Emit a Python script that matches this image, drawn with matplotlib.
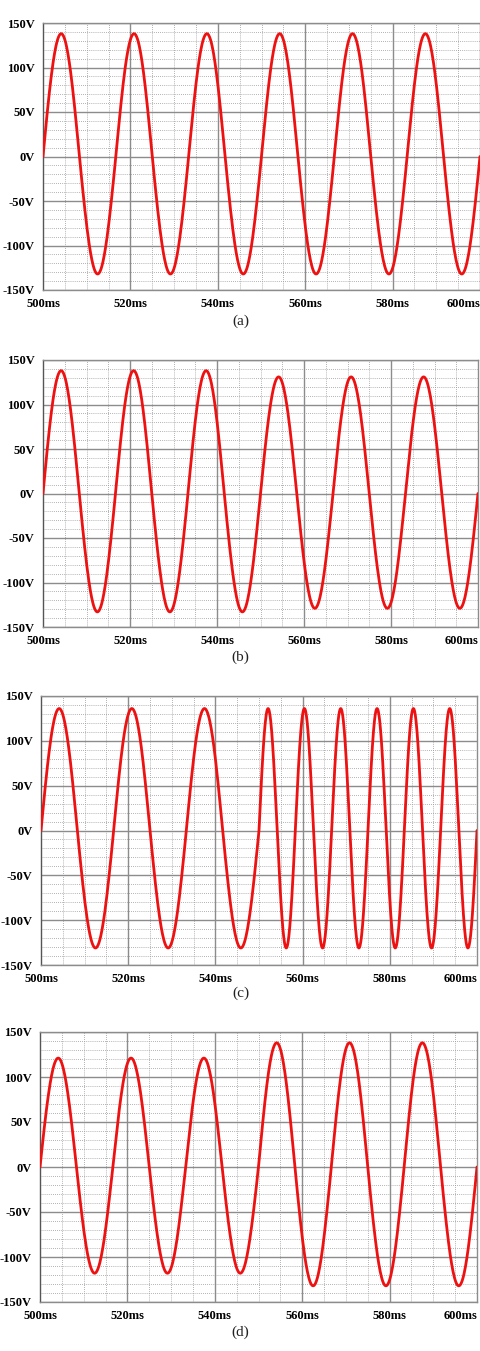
import matplotlib
matplotlib.use('Agg')
import matplotlib.pyplot as plt
import numpy as np

# half-cycle durations (ms) and peak values (V)
halfcyc_ms_a = [8.333] * 12
peaks_a = [138, -132] * 6

halfcyc_ms_b = [8.333] * 12
peaks_b = [138, -133] * 3 + [131, -129] * 3

halfcyc_ms_c = [8.333] * 6 + [4.1667] * 12
peaks_c = [136, -131] * 3 + [136, -131] * 6

halfcyc_ms_d = [8.333] * 12
peaks_d = [121, -118] * 3 + [138, -132] * 3

panels = [('(a)', halfcyc_ms_a, peaks_a),
          ('(b)', halfcyc_ms_b, peaks_b),
          ('(c)', halfcyc_ms_c, peaks_c),
          ('(d)', halfcyc_ms_d, peaks_d)]

t_start = 500.0
x_ticks = [500, 520, 540, 560, 580, 600]
x_labels = ['500ms', '520ms', '540ms', '560ms', '580ms', '600ms']
y_ticks = [-150, -100, -50, 0, 50, 100, 150]
y_labels = ['-150V', '-100V', '-50V', '0V', '50V', '100V', '150V']

# axes boxes in pixels: left, top, right, bottom
boxes = [(43, 23, 480, 290),
         (43, 360, 478, 627),
         (41, 696, 477, 965),
         (40, 1032, 477, 1302)]
caption_y = [321, 657, 993, 1332]

W, H = 481, 1351
fig = plt.figure(figsize=(W / 100, H / 100), dpi=100)
fig.patch.set_facecolor('white')

serif = ['Liberation Serif', 'DejaVu Serif']

def build_wave(durs, pks):
    ts, vs = [], []
    t0 = t_start
    for d, p in zip(durs, pks):
        tt = np.linspace(t0, t0 + d, 80)
        ts.append(tt)
        vs.append(p * np.sin(np.pi * (tt - t0) / d))
        t0 += d
    return np.concatenate(ts), np.concatenate(vs)

for (cap, durs, pks), (l, t, r, b), cy in zip(panels, boxes, caption_y):
    ax = fig.add_axes([l / W, 1 - b / H, (r - l) / W, (b - t) / H])
    ax.set_xlim(500, 600)
    ax.set_ylim(-150, 150)

    # minor dotted grid
    for v in np.arange(-140, 150, 10):
        if v % 50 != 0:
            ax.axhline(v, color='#999999', lw=0.6, ls=(0, (1, 1.5)), zorder=1)
    for v in np.arange(505, 600, 5):
        if v % 20 != 0:
            ax.axvline(v, color='#999999', lw=0.6, ls=(0, (1, 1.5)), zorder=1)
    # major solid grid
    for v in y_ticks:
        ax.axhline(v, color='#8c8c8c', lw=1.0, zorder=1)
    for v in x_ticks[1:-1]:
        ax.axvline(v, color='#8c8c8c', lw=1.0, zorder=1)

    tw, vw = build_wave(durs, pks)
    ax.plot(tw, vw, color='#ee1111', lw=2.0, zorder=3, solid_capstyle='round')

    for s in ['top', 'right', 'bottom']:
        ax.spines[s].set_color('#8c8c8c')
        ax.spines[s].set_linewidth(1.0)
    ax.spines['left'].set_color('#555555')
    ax.spines['left'].set_linewidth(1.0)

    ax.set_xticks(x_ticks)
    ax.set_xticklabels(x_labels, fontfamily=serif, fontweight='bold', fontsize=9)
    ax.set_yticks(y_ticks)
    ax.set_yticklabels(y_labels, fontfamily=serif, fontweight='bold', fontsize=9)
    ax.tick_params(length=0)
    ax.tick_params(axis='y', pad=6)
    ax.tick_params(axis='x', pad=6)
    xl = ax.get_xticklabels()
    xl[-1].set_horizontalalignment('right')
    for lab in ax.get_yticklabels():
        lab.set_verticalalignment('center_baseline')

    fig.text(0.5, 1 - cy / H, cap, ha='center', va='center',
             fontfamily=serif, fontsize=11, color='#222222')

plt.savefig('out.png', dpi=100)
